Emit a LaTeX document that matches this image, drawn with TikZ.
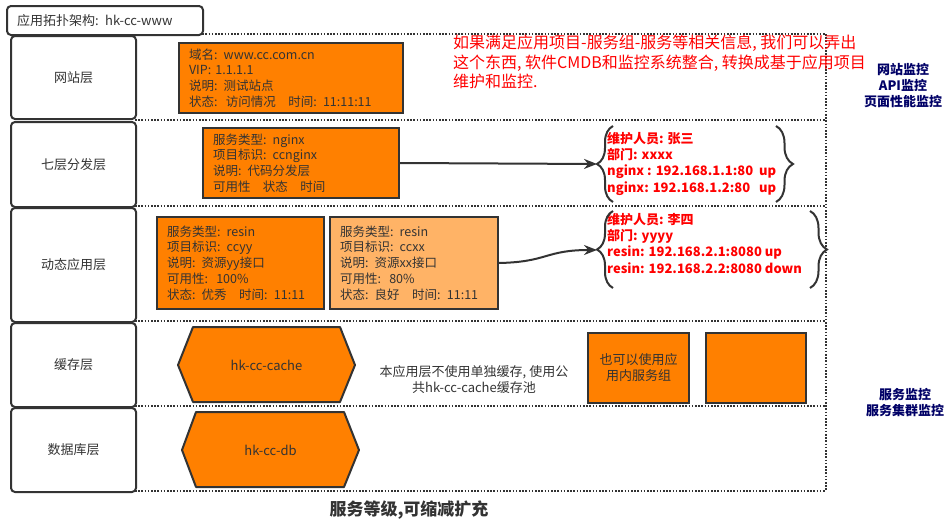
\documentclass[tikz,border=0pt]{standalone}
\usepackage{fontspec}
\setmainfont{Noto Sans CJK SC}
\usetikzlibrary{arrows.meta,decorations.pathreplacing}
\definecolor{boxorange}{HTML}{FF8000}
\definecolor{lightorange}{HTML}{FFB366}
\definecolor{linegray}{HTML}{333333}
\definecolor{navytext}{HTML}{000066}
\definecolor{alertred}{HTML}{FF0000}
\newcommand{\fsz}[2]{\fontsize{#1}{#2}\selectfont}

\begin{document}
\begin{tikzpicture}[x=1pt, y=-1pt, >={Stealth[length=13pt,width=10pt]},
    layer/.style={draw=linegray, line width=2pt, rounded corners=4pt, fill=white, text=linegray,
        font=\fsz{13}{16}, anchor=north west, minimum width=125pt},
    info/.style={draw=linegray, line width=2pt, fill=boxorange, text=linegray, font=\fsz{12.5}{15.8},
        anchor=north west, align=left, inner xsep=10pt, inner ysep=0pt},
    redlist/.style={text=alertred, font=\bfseries\fsz{13}{16.3}, anchor=north west, align=left, inner sep=0pt},
    monitor/.style={text=navytext, font=\bfseries\fsz{13}{16}, align=center, inner sep=0pt},
    plain/.style={text=linegray, font=\fsz{13}{16}, align=center, inner sep=0pt},
    dotline/.style={linegray, line width=1.6pt, dash pattern=on 1.6pt off 1.6pt},
    curly/.style={linegray, line width=2pt, decorate},
    hexa/.style={draw=linegray, line width=2pt, fill=boxorange, line join=round}]
\useasboundingbox (0,0) rectangle (950,522);

% dotted frame of the layers
\foreach \y in {34,120,206,321,406,491}
    \draw[dotline] (135,\y) -- (826,\y);
\draw[dotline] (826,34) -- (826,491);

\node[layer, minimum width=196pt, minimum height=29pt, text width=176pt, inner xsep=10pt, align=left]
    (title) at (6,5) {应用拓扑架构: hk-cc-www};

\node[layer, minimum height=83pt] (web) at (10,35) {网站层};
\node[layer, minimum height=85pt] (seven) at (10,121) {七层分发层};
\node[layer, minimum height=114pt] (dynamic) at (10,207) {动态应用层};
\node[layer, minimum height=84pt] (cachelayer) at (10,322) {缓存层};
\node[layer, minimum height=84pt] (dblayer) at (10,407) {数据库层};

\node[info, text width=204pt, minimum height=70pt] (site) at (178,42)
    {域名: www.cc.com.cn\\VIP: 1.1.1.1\\说明: 测试站点\\状态:\ \ 访问情况\ \ \ 时间: 11:11:11};
\node[info, text width=176pt, minimum height=70pt] (nginx) at (202,127)
    {服务类型: nginx\\项目标识: ccnginx\\说明: 代码分发层\\可用性\ \ \ 状态\ \ \ 时间};
\node[info, text width=147pt, minimum height=92pt] (resinyy) at (156,216)
    {服务类型: resin\\项目标识: ccyy\\说明: 资源yy接口\\可用性:\ \ 100\%\\状态: 优秀\ \ \ 时间: 11:11};
\node[info, fill=lightorange, text width=148pt, minimum height=92pt] (resinxx) at (329,216)
    {服务类型: resin\\项目标识: ccxx\\说明: 资源xx接口\\可用性:\ \ 80\%\\状态: 良好\ \ \ 时间: 11:11};

\node[anchor=north west, align=left, text=alertred, font=\fsz{16}{19.5}, inner sep=0pt] (idea) at (453,35)
    {如果满足应用项目-服务组-服务等相关信息, 我们可以弄出\\这个东西, 软件CMDB和监控系统整合, 转换成基于应用项目\\维护和监控.};

\node[redlist] (ownera) at (607,132)
    {维护人员: 张三\\部门: xxxx\\nginx : 192.168.1.1:80\ \ up\\nginx: 192.168.1.2:80\ \ \ up};
\node[redlist] (ownerb) at (607,213)
    {维护人员: 李四\\部门: yyyy\\resin: 192.168.2.1:8080 up\\resin: 192.168.2.2:8080 down};

\draw[curly, decoration={brace, amplitude=16pt}] (613,202) -- (613,126);
\draw[curly, decoration={brace, amplitude=17pt}] (776,126) -- (776,202);
\draw[curly, decoration={brace, amplitude=16pt}] (613,288) -- (613,211);
\draw[curly, decoration={brace, amplitude=17pt}] (810,211) -- (810,288);

\coordinate (tipa) at (597,164);
\coordinate (tipb) at (597,250);
\draw[->, linegray, line width=2pt] (nginx.east) -- (tipa);
\draw[->, linegray, line width=2pt] (resinxx.east) .. controls (548,262) and (545,250) .. (tipb);

\node[monitor] (webmon) at (903,86) {网站监控\\API监控\\页面性能监控};
\node[monitor] (svcmon) at (905,403) {服务监控\\服务集群监控};

\draw[hexa] (178,365) -- (193,327) -- (340,327) -- (355,365) -- (340,402) -- (193,402) -- cycle;
\node[plain] (cache) at (266.5,365) {hk-cc-cache};
\draw[hexa] (182,450) -- (196,412) -- (344,412) -- (359,450) -- (344,487) -- (196,487) -- cycle;
\node[plain] (db) at (270.5,450) {hk-cc-db};

\node[plain] (cachenote) at (474,380) {本应用层不使用单独缓存, 使用公\\共hk-cc-cache缓存池};
\node[info, align=center, font=\fsz{13}{16}, text width=81pt, minimum height=70pt] (innergroup) at (587,332)
    {也可以使用应\\用内服务组};
\node[info, minimum width=100pt, minimum height=70pt] (spare) at (705,332) {};

\node[text=linegray, font=\bfseries\fsz{17}{20}] (footer) at (409,510) {服务等级,可缩减扩充};
\end{tikzpicture}
\end{document}
